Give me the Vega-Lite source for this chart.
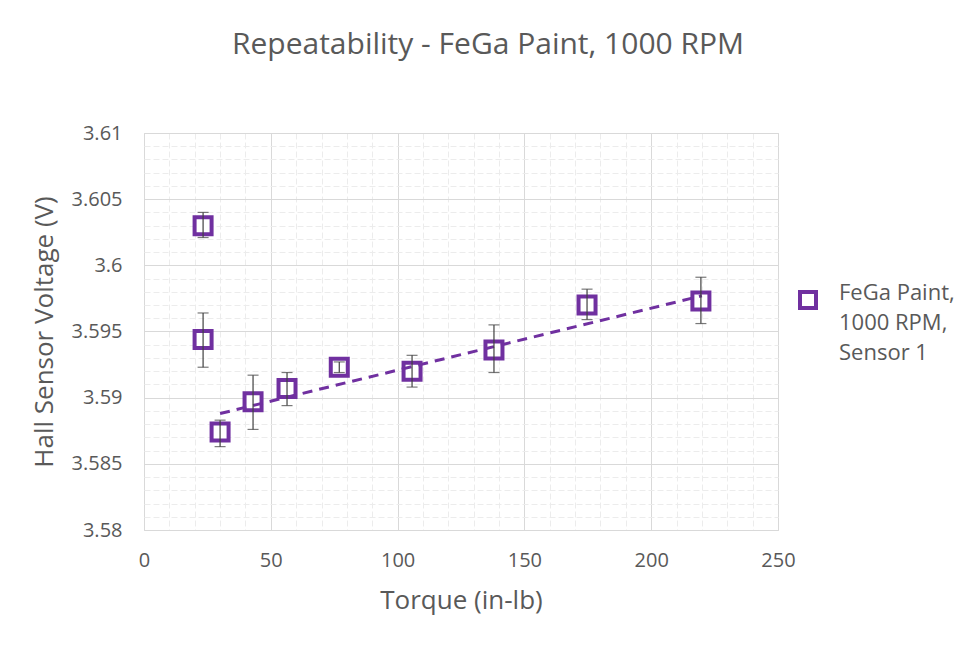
{
  "$schema": "https://vega.github.io/schema/vega-lite/v6.json",
  "width": 634,
  "height": 397,
  "autosize": {"type": "none"},
  "padding": {"left": 144, "top": 133, "right": 186, "bottom": 115},
  "background": "white",
  "title": {
    "text": "Repeatability - FeGa Paint, 1000 RPM",
    "fontSize": 30,
    "font": "Open Sans",
    "fontWeight": "normal",
    "color": "#595959",
    "anchor": "middle",
    "offset": 63,
    "dx": 27
  },
  "config": {
    "view": {"stroke": "#d9d9d9"},
    "font": "Open Sans",
    "style": {"guide-label": {"lineHeight": 30}}
  },
  "datasets": {
    "points": [
      {"series": "FeGa Paint, 1000 RPM, Sensor 1", "torque": 23.3, "v": 3.6030, "lo": 3.6021, "hi": 3.6040},
      {"series": "FeGa Paint, 1000 RPM, Sensor 1", "torque": 23.3, "v": 3.5944, "lo": 3.5923, "hi": 3.5964},
      {"series": "FeGa Paint, 1000 RPM, Sensor 1", "torque": 30.0, "v": 3.5874, "lo": 3.5863, "hi": 3.5883},
      {"series": "FeGa Paint, 1000 RPM, Sensor 1", "torque": 43.0, "v": 3.5897, "lo": 3.5876, "hi": 3.5917},
      {"series": "FeGa Paint, 1000 RPM, Sensor 1", "torque": 56.4, "v": 3.5907, "lo": 3.5894, "hi": 3.5919},
      {"series": "FeGa Paint, 1000 RPM, Sensor 1", "torque": 77.0, "v": 3.5923, "lo": 3.5919, "hi": 3.5927},
      {"series": "FeGa Paint, 1000 RPM, Sensor 1", "torque": 105.7, "v": 3.5920, "lo": 3.5908, "hi": 3.5932},
      {"series": "FeGa Paint, 1000 RPM, Sensor 1", "torque": 138.0, "v": 3.5936, "lo": 3.5919, "hi": 3.5955},
      {"series": "FeGa Paint, 1000 RPM, Sensor 1", "torque": 174.7, "v": 3.5970, "lo": 3.5959, "hi": 3.5982},
      {"series": "FeGa Paint, 1000 RPM, Sensor 1", "torque": 219.6, "v": 3.5973, "lo": 3.5956, "hi": 3.5991}
    ],
    "trend": [
      {"torque": 30, "v": 3.5888},
      {"torque": 220, "v": 3.5977}
    ]
  },
  "layer": [
    {
      "data": {"name": "points"},
      "mark": {"type": "point", "shape": "square", "filled": false, "fill": "white", "size": 289, "strokeWidth": 4, "opacity": 1},
      "encoding": {
        "x": {
          "field": "torque", "type": "quantitative",
          "scale": {"domain": [0, 250], "nice": false, "zero": false},
          "axis": {
            "values": [0,10,20,30,40,50,60,70,80,90,100,110,120,130,140,150,160,170,180,190,200,210,220,230,240,250],
            "title": "Torque (in-lb)",
            "titleFontSize": 26, "titleFontWeight": "normal", "titleColor": "#595959", "titlePadding": 17,
            "labelFontSize": 20, "labelColor": "#595959", "labelPadding": 20,
            "labelExpr": "datum.value % 50 === 0 ? datum.label : ''",
            "labelOverlap": false, "labelFlush": false,
            "ticks": false, "domain": false,
            "grid": true,
            "gridColor": {"condition": {"test": "datum.value % 50 === 0", "value": "#d9d9d9"}, "value": "#ececec"},
            "gridDash": {"condition": {"test": "datum.value % 50 === 0", "value": []}, "value": [6, 3]},
            "gridWidth": 1
          }
        },
        "y": {
          "field": "v", "type": "quantitative",
          "scale": {"domain": [3.58, 3.61], "nice": false, "zero": false},
          "axis": {
            "values": [3.58,3.581,3.582,3.583,3.584,3.585,3.586,3.587,3.588,3.589,3.59,3.591,3.592,3.593,3.594,3.595,3.596,3.597,3.598,3.599,3.6,3.601,3.602,3.603,3.604,3.605,3.606,3.607,3.608,3.609,3.61],
            "title": "Hall Sensor Voltage (V)",
            "titleFontSize": 26, "titleFontWeight": "normal", "titleColor": "#595959", "titlePadding": 14,
            "labelFontSize": 20, "labelColor": "#595959", "labelPadding": 22,
            "labelExpr": "abs(datum.value*200 - round(datum.value*200)) < 0.001 ? toString(round(datum.value*1000)/1000) : ''",
            "labelOverlap": false, "labelFlush": false,
            "ticks": false, "domain": false,
            "grid": true,
            "gridColor": {"condition": {"test": "abs(datum.value*200 - round(datum.value*200)) < 0.001", "value": "#d9d9d9"}, "value": "#ececec"},
            "gridDash": {"condition": {"test": "abs(datum.value*200 - round(datum.value*200)) < 0.001", "value": []}, "value": [6, 3]},
            "gridWidth": 1
          }
        },
        "color": {
          "field": "series", "type": "nominal",
          "scale": {"range": ["#7030A0"]},
          "legend": {
            "orient": "none", "legendX": 653, "legendY": 156,
            "title": null,
            "labelFontSize": 22, "labelColor": "#595959", "labelLimit": 300,
            "labelExpr": "['FeGa Paint,', '1000 RPM,', 'Sensor 1']",
            "labelBaseline": "alphabetic", "labelOffset": 20,
            "symbolType": "square", "symbolSize": 256, "symbolStrokeWidth": 4, "symbolFillColor": "white"
          }
        }
      }
    },
    {
      "data": {"name": "trend"},
      "mark": {"type": "line", "color": "#7030A0", "strokeWidth": 3, "strokeDash": [10, 7]},
      "encoding": {
        "x": {
          "field": "torque", "type": "quantitative",
          "scale": {"domain": [0, 250], "nice": false, "zero": false},
          "axis": {
            "values": [0,10,20,30,40,50,60,70,80,90,100,110,120,130,140,150,160,170,180,190,200,210,220,230,240,250],
            "title": "Torque (in-lb)",
            "titleFontSize": 26, "titleFontWeight": "normal", "titleColor": "#595959", "titlePadding": 17,
            "labelFontSize": 20, "labelColor": "#595959", "labelPadding": 20,
            "labelExpr": "datum.value % 50 === 0 ? datum.label : ''",
            "labelOverlap": false, "labelFlush": false,
            "ticks": false, "domain": false,
            "grid": true,
            "gridColor": {"condition": {"test": "datum.value % 50 === 0", "value": "#d9d9d9"}, "value": "#ececec"},
            "gridDash": {"condition": {"test": "datum.value % 50 === 0", "value": []}, "value": [6, 3]},
            "gridWidth": 1
          }
        },
        "y": {
          "field": "v", "type": "quantitative",
          "scale": {"domain": [3.58, 3.61], "nice": false, "zero": false},
          "axis": {
            "values": [3.58,3.581,3.582,3.583,3.584,3.585,3.586,3.587,3.588,3.589,3.59,3.591,3.592,3.593,3.594,3.595,3.596,3.597,3.598,3.599,3.6,3.601,3.602,3.603,3.604,3.605,3.606,3.607,3.608,3.609,3.61],
            "title": "Hall Sensor Voltage (V)",
            "titleFontSize": 26, "titleFontWeight": "normal", "titleColor": "#595959", "titlePadding": 14,
            "labelFontSize": 20, "labelColor": "#595959", "labelPadding": 22,
            "labelExpr": "abs(datum.value*200 - round(datum.value*200)) < 0.001 ? toString(round(datum.value*1000)/1000) : ''",
            "labelOverlap": false, "labelFlush": false,
            "ticks": false, "domain": false,
            "grid": true,
            "gridColor": {"condition": {"test": "abs(datum.value*200 - round(datum.value*200)) < 0.001", "value": "#d9d9d9"}, "value": "#ececec"},
            "gridDash": {"condition": {"test": "abs(datum.value*200 - round(datum.value*200)) < 0.001", "value": []}, "value": [6, 3]},
            "gridWidth": 1
          }
        }
      }
    },
    {
      "data": {"name": "points"},
      "mark": {"type": "errorbar", "color": "#404040", "thickness": 1.2, "ticks": {"size": 11, "thickness": 1.2, "color": "#404040"}},
      "encoding": {
        "x": {
          "field": "torque", "type": "quantitative",
          "scale": {"domain": [0, 250], "nice": false, "zero": false},
          "axis": {
            "values": [0,10,20,30,40,50,60,70,80,90,100,110,120,130,140,150,160,170,180,190,200,210,220,230,240,250],
            "title": "Torque (in-lb)",
            "titleFontSize": 26, "titleFontWeight": "normal", "titleColor": "#595959", "titlePadding": 17,
            "labelFontSize": 20, "labelColor": "#595959", "labelPadding": 20,
            "labelExpr": "datum.value % 50 === 0 ? datum.label : ''",
            "labelOverlap": false, "labelFlush": false,
            "ticks": false, "domain": false,
            "grid": true,
            "gridColor": {"condition": {"test": "datum.value % 50 === 0", "value": "#d9d9d9"}, "value": "#ececec"},
            "gridDash": {"condition": {"test": "datum.value % 50 === 0", "value": []}, "value": [6, 3]},
            "gridWidth": 1
          }
        },
        "y": {
          "field": "lo", "type": "quantitative",
          "scale": {"domain": [3.58, 3.61], "nice": false, "zero": false},
          "axis": {
            "values": [3.58,3.581,3.582,3.583,3.584,3.585,3.586,3.587,3.588,3.589,3.59,3.591,3.592,3.593,3.594,3.595,3.596,3.597,3.598,3.599,3.6,3.601,3.602,3.603,3.604,3.605,3.606,3.607,3.608,3.609,3.61],
            "title": "Hall Sensor Voltage (V)",
            "titleFontSize": 26, "titleFontWeight": "normal", "titleColor": "#595959", "titlePadding": 14,
            "labelFontSize": 20, "labelColor": "#595959", "labelPadding": 22,
            "labelExpr": "abs(datum.value*200 - round(datum.value*200)) < 0.001 ? toString(round(datum.value*1000)/1000) : ''",
            "labelOverlap": false, "labelFlush": false,
            "ticks": false, "domain": false,
            "grid": true,
            "gridColor": {"condition": {"test": "abs(datum.value*200 - round(datum.value*200)) < 0.001", "value": "#d9d9d9"}, "value": "#ececec"},
            "gridDash": {"condition": {"test": "abs(datum.value*200 - round(datum.value*200)) < 0.001", "value": []}, "value": [6, 3]},
            "gridWidth": 1
          }
        },
        "y2": {"field": "hi"}
      }
    }
  ]
}
